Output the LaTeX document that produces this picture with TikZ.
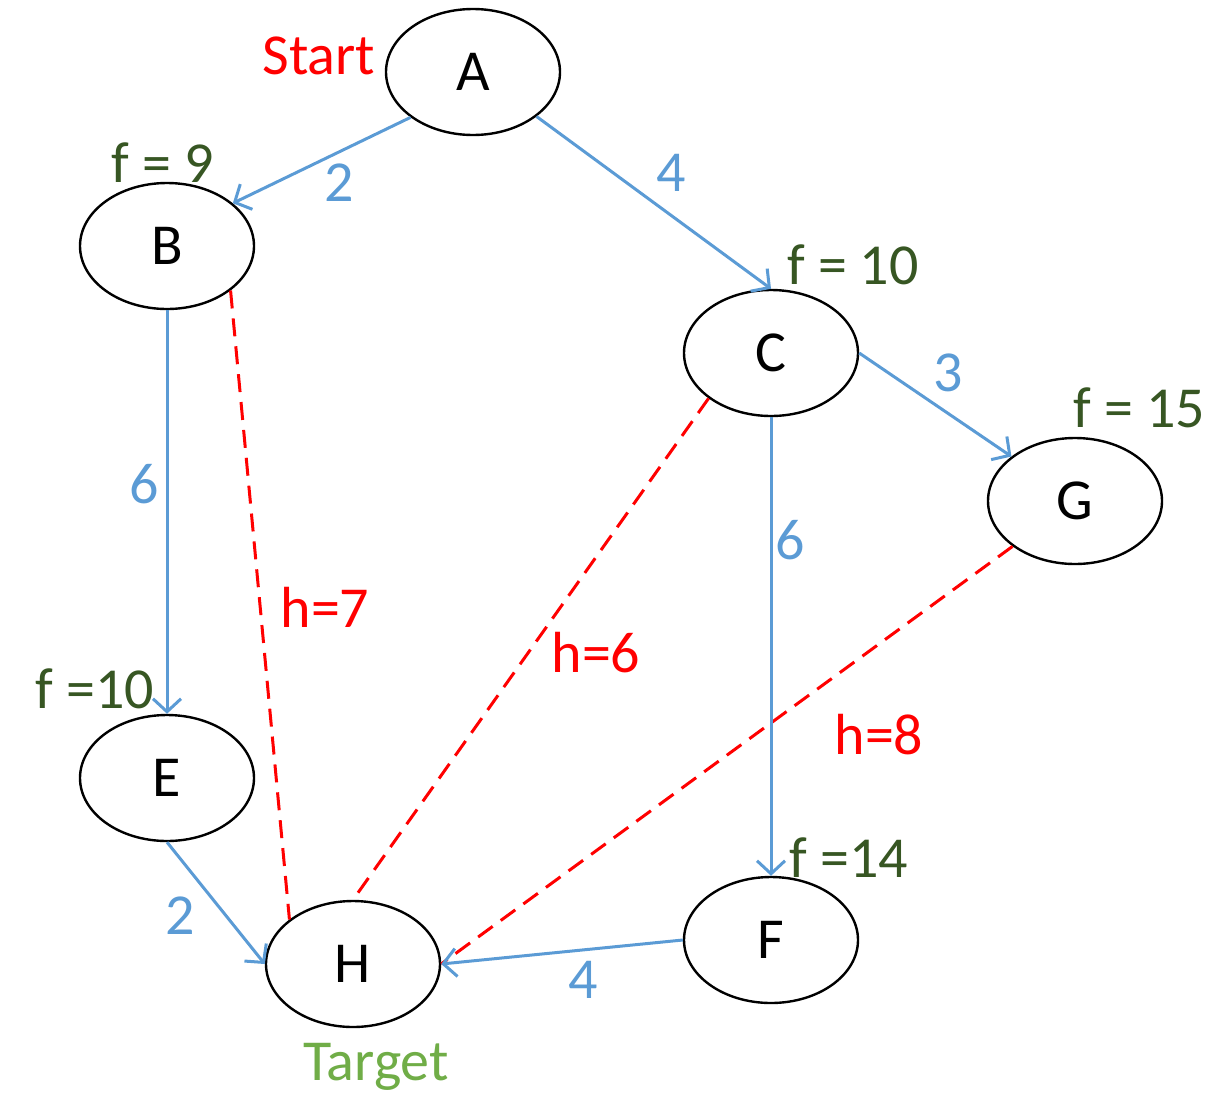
\documentclass[tikz,border=0pt]{standalone}
\usepackage{fontspec}
\setmainfont{Carlito}
\usetikzlibrary{shapes.geometric,arrows.meta}
\definecolor{eblue}{HTML}{5B9BD5}
\definecolor{fgreen}{HTML}{375623}
\definecolor{tgreen}{HTML}{70AD47}
\begin{document}
\begin{tikzpicture}[x=1pt,y=-1pt,
  vert/.style={ellipse,draw=black,line width=2.4pt,minimum width=174pt,minimum height=126pt,inner sep=0pt,font=\fontsize{58}{62}\selectfont},
  edge/.style={draw=eblue,line width=3pt,-{Straight Barb[length=13pt,width=28pt,line width=3pt]}},
  heur/.style={draw=red,line width=3pt,dash pattern=on 18pt off 10pt},
  lbl/.style={font=\fontsize{58}{62}\selectfont,inner sep=0pt},
  wlbl/.style={lbl,text=eblue},
  flbl/.style={lbl,text=fgreen},
  hlbl/.style={lbl,text=red}]
\useasboundingbox (0,0) rectangle (1210,1098);
\node[vert] (A) at (473,72) {A};
\node[vert] (B) at (167,246) {B};
\node[vert] (C) at (771,353) {C};
\node[vert] (G) at (1075,501) {G};
\node[vert] (E) at (167,778) {E};
\node[vert] (H) at (353,964) {H};
\node[vert] (F) at (771,940) {F};

\draw[heur] (B.-35) -- (H.145);
\draw[heur] (C.216) -- (H.north);
\draw[heur] (G.216) -- (H.east);

\draw[edge] (A.216) -- (B.33);
\draw[edge] (A.-35) -- (C.north);
\draw[edge] (C.east) -- (G.145);
\draw[edge] (B.south) -- (E.north);
\draw[edge] (C.south) -- (F.north);
\draw[edge] (E.south) -- (H.west);
\draw[edge] (F.west) -- (H.east);

\node[hlbl] (lstart) at (319,56) {Start};
\node[lbl,text=tgreen] (ltarget) at (376,1067) {Target};
\node[flbl] (fB) at (163,163) {f = 9};
\node[flbl] (fC) at (853,265) {f = 10};
\node[flbl] (fG) at (1139,408) {f = 15};
\node[flbl] (fE) at (95,689) {f =10};
\node[flbl] (fF) at (849,858) {f =14};
\node[wlbl] (wAB) at (339,183) {2};
\node[wlbl] (wAC) at (671,173) {4};
\node[wlbl] (wCG) at (948,373) {3};
\node[wlbl] (wBE) at (144,484) {6};
\node[wlbl] (wCF) at (790,540) {6};
\node[wlbl] (wEH) at (180,916) {2};
\node[wlbl] (wFH) at (583,980) {4};
\node[hlbl] (hB) at (325,607) {h=7};
\node[hlbl] (hC) at (596,653) {h=6};
\node[hlbl] (hG) at (879,735) {h=8};
\end{tikzpicture}
\end{document}
